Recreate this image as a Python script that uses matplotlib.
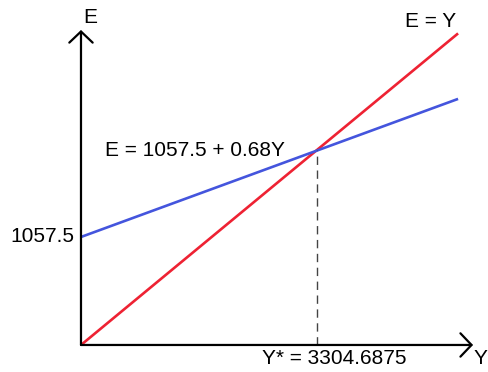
import matplotlib.pyplot as plt

plt.rcParams['font.family'] = ['Liberation Sans', 'DejaVu Sans']

# valores (esquemático)
y_star = 3304.6875
intercepto = 1057.5
y_vals = [0, 5280]
e_igual_y = [0, 5280]
e_consumo = [1830, 4170]
e_intercepto_dibujo = 1830

fig = plt.figure(figsize=(4.89, 3.72), dpi=100)
ax = fig.add_axes([0, 0, 1, 1])
ax.set_xlim(-1134, 5713)
ax.set_ylim(-458, 5846)
ax.axis('off')

# ejes con flechas
flecha = dict(arrowstyle='->,head_length=0.4,head_width=0.42', lw=1.6, color='black',
              mutation_scale=20, shrinkA=0, shrinkB=0)
ax.annotate('', xy=(0, 5338), xytext=(0, 0), arrowprops=flecha)
ax.annotate('', xy=(5490, 0), xytext=(0, 0), arrowprops=flecha)

# rectas
ax.plot(y_vals, e_igual_y, color='#ee2233', lw=1.9, solid_capstyle='butt')
ax.plot(y_vals, e_consumo, color='#4455dd', lw=1.9, solid_capstyle='butt')

# línea de equilibrio
ax.plot([y_star, y_star], [0, y_star], color='#444444', lw=1, ls=(0, (6, 4)))

fs = 15
ax.text(130, 5555, 'E', fontsize=fs, ha='center', va='center')
ax.text(5590, -230, 'Y', fontsize=fs, ha='center', va='center')
ax.text(4900, 5480, 'E = Y', fontsize=fs, ha='center', va='center')
ax.text(1600, 3304, 'E = 1057.5 + 0.68Y', fontsize=fs, ha='center', va='center')
ax.text(-90, e_intercepto_dibujo, f'{intercepto}', fontsize=fs, ha='right', va='center')
ax.text(y_star + 240, -230, f'Y* = {y_star}', fontsize=fs, ha='center', va='center')

plt.savefig('out.png', dpi=100)
